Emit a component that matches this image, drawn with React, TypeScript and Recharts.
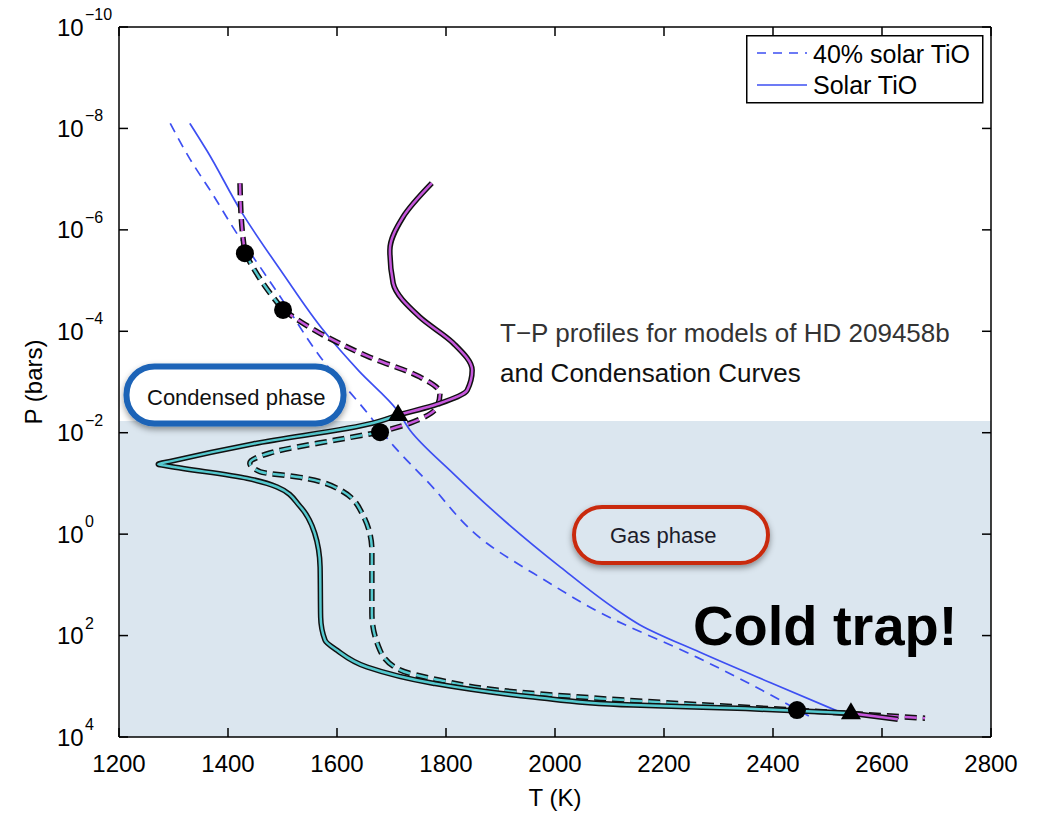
import React from 'react';
import { ComposedChart, Scatter, XAxis, YAxis, ReferenceArea } from 'recharts';

const FONT = '"Liberation Sans", Arial, Helvetica, sans-serif';

const T_TICKS = [1200, 1400, 1600, 1800, 2000, 2200, 2400, 2600, 2800];
const LOGP_TICKS = [-10, -8, -6, -4, -2, 0, 2, 4];
const CONDENSED_TOP = -2.23; // log10 P where the shaded band begins

// all points are [T (K), log10 P (bars)]
// TiO condensation curves
const solarTiO = [
  [1330, -8.1], [1362, -7.55], [1426, -6.33], [1500, -5.15], [1578, -3.98],
  [1640, -3.22], [1710, -2.45], [1734, -2.05], [1813, -1.2], [1912, -0.22],
  [2010, 0.65], [2114, 1.5], [2156, 1.79], [2266, 2.33], [2400, 2.95], [2525, 3.52],
];
const fortyTiO = [
  [1294, -8.1], [1330, -7.4], [1372, -6.7], [1415, -5.95], [1460, -5.25],
  [1501, -4.6], [1569, -3.5], [1655, -2.4], [1703, -1.75], [1765, -1.05],
  [1875, 0.18], [1980, 0.9], [2083, 1.55], [2261, 2.43], [2380, 3.08], [2468, 3.6],
];

// solar TiO model profile (solid double line)
const solarHot1 = [
  [1774, -6.92], [1721, -6.25], [1697, -5.6], [1703, -4.95], [1752, -4.28],
  [1813, -3.77], [1848, -3.23], [1839, -2.84], [1789, -2.58], [1712, -2.35],
];
const solarCold = [
  [1712, -2.35], [1666, -2.19], [1446, -1.78], [1292, -1.43], [1272, -1.38],
  [1292, -1.34], [1435, -1.1], [1490, -0.93], [1532, -0.55], [1559, -0.02],
  [1569, 0.65], [1570, 1.64], [1578, 2.09], [1600, 2.29], [1655, 2.62],
  [1776, 2.94], [1960, 3.21], [2143, 3.37], [2350, 3.44], [2543, 3.53],
];
const solarHot2 = [[2543, 3.53], [2629, 3.65]];

// 40% solar TiO model profile (dashed double line)
const fortyHot1 = [[1422, -6.92], [1426, -6.0], [1431, -5.54]];
const fortyCold1 = [[1431, -5.54], [1464, -4.95], [1501, -4.42]];
const fortyHot2 = [
  [1501, -4.42], [1569, -3.96], [1660, -3.49], [1752, -3.1], [1789, -2.78],
  [1783, -2.5], [1734, -2.19], [1679, -2.01],
];
const fortyCold2 = [
  [1679, -2.01], [1600, -1.86], [1477, -1.6], [1440, -1.4], [1459, -1.23],
  [1532, -1.12], [1606, -0.87], [1646, -0.41], [1664, 0.32], [1664, 1.56],
  [1679, 2.29], [1716, 2.68], [1789, 2.88], [1899, 3.08], [2083, 3.24], [2444, 3.47],
];
const fortyHot3 = [[2444, 3.47], [2679, 3.63]];

// crossings of profiles and condensation curves
const crossDots = [[1431, -5.54], [1501, -4.42], [1679, -2.01], [2444, 3.47]];
const crossTriangles = [[1712, -2.35], [2543, 3.53]];

const PURPLE = '#c657dc';
const CYAN = '#55c9cf';
const BLUE = '#3d4ff2';
const SHADE = '#dbe6ef';

const toPts = (arr: number[][]) => arr.map(([t, p]) => ({ t, p }));

const NoShape = () => null;
const DotShape = (props: any) => <circle cx={props.cx} cy={props.cy} r={9} fill="#000" />;
const TriShape = (props: any) => {
  const { cx, cy } = props;
  return <polygon points={`${cx},${cy - 11} ${cx + 10},${cy + 6} ${cx - 10},${cy + 6}`} fill="#000" />;
};

function profile(key: string, pts: number[][], color: string, dashed: boolean) {
  const dash = dashed ? '12 6' : undefined;
  const data = toPts(pts);
  return [
    <Scatter
      key={key + '-edge'}
      data={data}
      shape={NoShape}
      line={{ stroke: '#111', strokeWidth: 5.5, strokeDasharray: dash }}
      lineJointType="monotoneY"
      isAnimationActive={false}
    />,
    <Scatter
      key={key + '-core'}
      data={data}
      shape={NoShape}
      line={{ stroke: color, strokeWidth: 2.5, strokeDasharray: dash }}
      lineJointType="monotoneY"
      isAnimationActive={false}
    />,
  ];
}

const BottomTick = ({ x, y, payload }: any) => (
  <g>
    <line x1={x} y1={y} x2={x} y2={y - 9} stroke="#000" strokeWidth={1.5} />
    <text x={x} y={y + 35} textAnchor="middle" fontSize={24} fontFamily={FONT} fill="#000">
      {payload.value}
    </text>
  </g>
);

const LeftTick = ({ x, y, payload }: any) => {
  const v = payload.value;
  const exp = v < 0 ? '\u2212' + Math.abs(v) : String(v);
  return (
    <g>
      <line x1={x} y1={y} x2={x + 9} y2={y} stroke="#000" strokeWidth={1.5} />
      <text x={x - 62} y={y + 8.5} fontSize={24} fontFamily={FONT} fill="#000">10</text>
      <text x={x - 34} y={y - 7} fontSize={16} fontFamily={FONT} fill="#000">{exp}</text>
    </g>
  );
};

const TopTick = ({ x, y }: any) => <line x1={x} y1={y} x2={x} y2={y + 9} stroke="#000" strokeWidth={1.5} />;
const RightTick = ({ x, y }: any) => <line x1={x} y1={y} x2={x - 9} y2={y} stroke="#000" strokeWidth={1.5} />;

const axisLine = { stroke: '#000', strokeWidth: 1.5 };

export default function App() {
  return (
    <div style={{ position: 'absolute', left: 0, top: 0, width: 1041, height: 813, background: '#fff' }}>
      <ComposedChart width={1041} height={813} margin={{ top: 26, right: 49, bottom: 0, left: 0 }}>
        <XAxis
          type="number"
          dataKey="t"
          domain={[1200, 2800]}
          ticks={T_TICKS}
          interval={0}
          allowDataOverflow
          height={76}
          tickSize={0}
          tickMargin={0}
          tickLine={false}
          axisLine={axisLine}
          tick={<BottomTick />}
        />
        <XAxis
          xAxisId="top"
          orientation="top"
          type="number"
          dataKey="t"
          domain={[1200, 2800]}
          ticks={T_TICKS}
          interval={0}
          allowDataOverflow
          height={1}
          tickSize={0}
          tickMargin={0}
          tickLine={false}
          axisLine={axisLine}
          tick={<TopTick />}
        />
        <YAxis
          type="number"
          dataKey="p"
          domain={[-10, 4]}
          reversed
          ticks={LOGP_TICKS}
          interval={0}
          allowDataOverflow
          width={119}
          tickSize={0}
          tickMargin={0}
          tickLine={false}
          axisLine={axisLine}
          tick={<LeftTick />}
        />
        <YAxis
          yAxisId="right"
          orientation="right"
          type="number"
          dataKey="p"
          domain={[-10, 4]}
          reversed
          ticks={LOGP_TICKS}
          interval={0}
          allowDataOverflow
          width={1}
          tickSize={0}
          tickMargin={0}
          tickLine={false}
          axisLine={axisLine}
          tick={<RightTick />}
        />
        <ReferenceArea y1={CONDENSED_TOP} y2={4} fill={SHADE} fillOpacity={1} stroke="none" />

        <Scatter
          data={toPts(fortyTiO)}
          shape={NoShape}
          line={{ stroke: BLUE, strokeWidth: 1.7, strokeDasharray: '10 7' }}
          lineJointType="monotoneY"
          isAnimationActive={false}
        />
        <Scatter
          data={toPts(solarTiO)}
          shape={NoShape}
          line={{ stroke: BLUE, strokeWidth: 1.7 }}
          lineJointType="monotoneY"
          isAnimationActive={false}
        />

        {profile('fh1', fortyHot1, PURPLE, true)}
        {profile('fc1', fortyCold1, CYAN, true)}
        {profile('fh2', fortyHot2, PURPLE, true)}
        {profile('fc2', fortyCold2, CYAN, true)}
        {profile('fh3', fortyHot3, PURPLE, true)}

        {profile('sh1', solarHot1, PURPLE, false)}
        {profile('sc', solarCold, CYAN, false)}
        {profile('sh2', solarHot2, PURPLE, false)}

        <Scatter data={toPts(crossDots)} shape={DotShape} isAnimationActive={false} />
        <Scatter data={toPts(crossTriangles)} shape={TriShape} isAnimationActive={false} />
        {/* invisible series so the mirrored top / right axes get drawn */}
        <Scatter
          xAxisId="top"
          yAxisId="right"
          data={toPts(crossDots)}
          shape={NoShape}
          isAnimationActive={false}
        />
      </ComposedChart>

      <svg
        width={1041}
        height={813}
        style={{ position: 'absolute', left: 0, top: 0, pointerEvents: 'none' }}
        fontFamily={FONT}
      >
        <defs>
          <filter id="shadow" x="-20%" y="-30%" width="140%" height="170%">
            <feDropShadow dx="0" dy="3" stdDeviation="3" floodColor="#000" floodOpacity="0.4" />
          </filter>
        </defs>

        {/* legend */}
        <rect x={746.75} y={35.75} width={236} height={67} fill="#fff" stroke="#000" strokeWidth={1.5} />
        <line x1={757} y1={53} x2={807} y2={53} stroke={BLUE} strokeWidth={1.7} strokeDasharray="9 7" />
        <text x={813} y={63} fontSize={25} fill="#000">40% solar TiO</text>
        <line x1={757} y1={85} x2={807} y2={85} stroke={BLUE} strokeWidth={1.7} />
        <text x={813} y={94} fontSize={25} fill="#000">Solar TiO</text>

        {/* title */}
        <text x={500} y={342} fontSize={26} fill="#333">T{'\u2212'}P profiles for models of HD 209458b</text>
        <text x={500} y={382} fontSize={26} fill="#111">and Condensation Curves</text>

        {/* phase labels */}
        <rect x={126.5} y={366.5} width={217} height={57} rx={28} fill="#fff" stroke="#1c63b7" strokeWidth={6} filter="url(#shadow)" />
        <text x={147} y={405} fontSize={22} fill="#111">Condensed phase</text>

        <rect x={574} y={507} width={194} height={56} rx={28} fill={SHADE} stroke="#c92a10" strokeWidth={4} filter="url(#shadow)" />
        <text x={610} y={543} fontSize={22} fill="#1d1d2b">Gas phase</text>

        <text x={693} y={645} fontSize={56} fontWeight="bold" fill="#000">Cold trap!</text>

        {/* axis titles */}
        <text x={555} y={806} fontSize={24} textAnchor="middle" fill="#000">T (K)</text>
        <text x={42} y={382} fontSize={24} textAnchor="middle" fill="#000" transform="rotate(-90 42 382)">P (bars)</text>
      </svg>
    </div>
  );
}
